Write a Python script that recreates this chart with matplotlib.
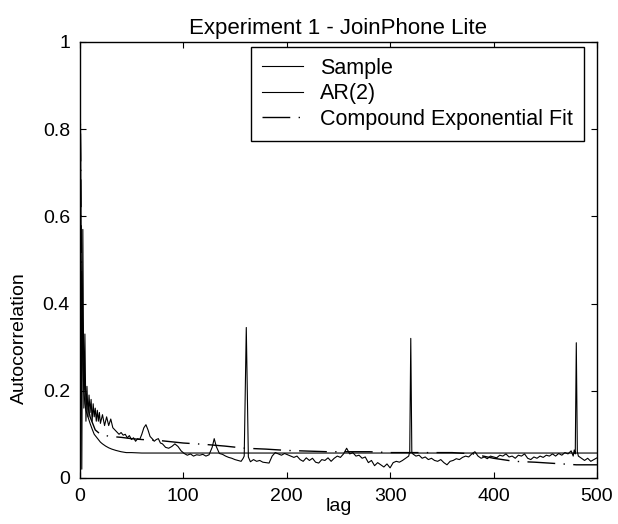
import matplotlib
matplotlib.use("Agg")
import matplotlib.pyplot as plt

plt.rcParams["font.family"] = ["Liberation Sans", "DejaVu Sans"]

title = "Experiment 1 - JoinPhone Lite"
series_names = ["Sample", "AR(2)", "Compound Exponential Fit"]

# sample autocorrelation (at irregular lags)
sample_lag = [
    0, 1, 2, 3, 4, 5, 6, 7, 8, 9, 10, 11, 12, 13, 14, 15, 16, 17, 18, 19, 20,
    22, 24, 26, 28, 30, 32, 34, 36, 38, 40, 42, 44, 46, 48, 50, 52, 54, 56, 58,
    60, 62, 64, 66, 68, 70, 72, 74, 76, 78, 80, 83, 86, 89, 92, 95, 98, 101,
    104, 107, 110, 113, 116, 119, 122, 125, 128, 130, 132, 135, 138, 141, 144,
    147, 150, 153, 156, 158, 159, 161, 163, 165, 168, 171, 174, 177, 180, 183,
    186, 189, 192, 195, 198, 201, 204, 207, 210, 213, 216, 219, 222, 225, 228,
    231, 234, 237, 240, 243, 246, 249, 252, 255, 258, 261, 264, 267, 270, 273,
    276, 279, 282, 285, 288, 291, 294, 297, 300, 303, 306, 309, 312, 315, 318,
    319, 320, 321, 322, 325, 328, 331, 334, 337, 340, 343, 346, 349, 352, 355,
    358, 361, 364, 367, 370, 373, 376, 379, 382, 385, 388, 391, 394, 397, 400,
    403, 406, 409, 412, 415, 418, 421, 424, 427, 430, 433, 436, 439, 442, 445,
    448, 451, 454, 457, 460, 463, 466, 469, 472, 475, 477, 478, 479, 480, 481,
    482, 485, 488, 491, 494, 497, 500,
]
sample_acf = [
    1.0, 0.74, 0.02, 0.57, 0.16, 0.33, 0.13, 0.21, 0.14, 0.19, 0.15, 0.18, 0.13,
    0.17, 0.14, 0.16, 0.13, 0.155, 0.13, 0.15, 0.125,
    0.145, 0.12, 0.14, 0.12, 0.135, 0.115, 0.11, 0.105, 0.1, 0.104, 0.098, 0.1,
    0.092, 0.097, 0.088, 0.092, 0.084, 0.09, 0.088,
    0.1, 0.115, 0.122, 0.11, 0.095, 0.09, 0.084, 0.088, 0.09, 0.08, 0.078, 0.07,
    0.068, 0.072, 0.078, 0.072, 0.062, 0.056,
    0.052, 0.055, 0.05, 0.053, 0.052, 0.054, 0.05, 0.053, 0.07, 0.09, 0.072,
    0.056, 0.054, 0.05, 0.047,
    0.045, 0.042, 0.04, 0.038, 0.045, 0.05, 0.345, 0.048, 0.037, 0.042, 0.038,
    0.04, 0.036, 0.035, 0.034,
    0.05, 0.058, 0.055, 0.052, 0.056, 0.053, 0.05, 0.047, 0.05, 0.042, 0.038,
    0.046, 0.04, 0.045, 0.036,
    0.034, 0.042, 0.04, 0.046, 0.038, 0.045, 0.05, 0.047, 0.055, 0.068, 0.055,
    0.058, 0.05, 0.052, 0.045,
    0.048, 0.035, 0.04, 0.028, 0.035, 0.03, 0.025, 0.032, 0.023, 0.035, 0.038,
    0.036, 0.04, 0.045, 0.05,
    0.06, 0.32, 0.06, 0.055, 0.05, 0.052, 0.045, 0.048, 0.042, 0.045, 0.04,
    0.038, 0.042, 0.035, 0.03,
    0.038, 0.04, 0.044, 0.042, 0.047, 0.05, 0.048, 0.055, 0.06, 0.05, 0.045,
    0.048, 0.044, 0.05, 0.048,
    0.046, 0.052, 0.05, 0.055, 0.048, 0.05, 0.045, 0.052, 0.05, 0.055, 0.045,
    0.042, 0.048, 0.045, 0.05,
    0.047, 0.052, 0.05, 0.055, 0.05, 0.056, 0.052, 0.058, 0.055, 0.062, 0.05,
    0.064, 0.055, 0.31, 0.06,
    0.05, 0.045, 0.04, 0.045, 0.038, 0.042, 0.046,
]

ar2_lag = [0, 1, 2, 3, 4, 5, 6, 8, 10, 12, 14, 16, 18, 20, 22, 25, 28, 31, 35,
           40, 45, 50, 60, 70, 500]
ar2_acf = [1.0, 0.55, 0.38, 0.26, 0.2, 0.17, 0.155, 0.14, 0.125, 0.112, 0.1,
           0.094, 0.088, 0.082, 0.078, 0.073, 0.069, 0.066, 0.063, 0.06, 0.058,
           0.058, 0.057, 0.057, 0.057]

fit_lag = [0, 2, 5, 10, 15, 20, 25, 30, 40, 50, 60, 80, 100, 120, 140, 160,
           180, 200, 240, 280, 300, 320, 360, 380, 400, 420, 440, 460, 480, 500]
fit_acf = [1.0, 0.4, 0.2, 0.14, 0.11, 0.1, 0.097, 0.095, 0.093, 0.09, 0.088,
           0.085, 0.08, 0.077, 0.073, 0.068, 0.066, 0.063, 0.06, 0.06, 0.058,
           0.058, 0.058, 0.055, 0.045, 0.038, 0.036, 0.033, 0.03, 0.03]

fig = plt.figure(figsize=(6.18, 5.24), dpi=100)
ax = fig.add_axes([0.129, 0.088, 0.837, 0.832])

ax.plot(sample_lag, sample_acf, color="black", lw=0.8, label=series_names[0])
ax.plot(ar2_lag, ar2_acf, color="black", lw=0.8, label=series_names[1])
ax.plot(fit_lag, fit_acf, color="black", lw=1.0, dashes=(20, 6, 1, 6),
        label=series_names[2])

ax.set_xlim(0, 500)
ax.set_ylim(0, 1)
ax.set_xticks([0, 100, 200, 300, 400, 500])
ax.set_yticks([0, 0.2, 0.4, 0.6, 0.8, 1])
ax.set_yticklabels(["0", "0.2", "0.4", "0.6", "0.8", "1"])
ax.tick_params(direction="in", top=True, right=True, length=4, width=0.8,
               labelsize=14, pad=7)
for s in ax.spines.values():
    s.set_linewidth(1.0)

ax.set_title(title, fontsize=16, pad=6)
ax.set_xlabel("lag", fontsize=14, labelpad=-5)
ax.set_ylabel("Autocorrelation", fontsize=14)
ax.yaxis.set_label_coords(-0.1, 0.32)

leg = ax.legend(loc="upper right", bbox_to_anchor=(0.975, 0.989), fontsize=15.5,
                handlelength=1.9, handletextpad=0.8, labelspacing=0.2,
                borderpad=0.52, borderaxespad=0, fancybox=False, framealpha=1,
                edgecolor="black")
leg.get_frame().set_linewidth(1.0)

fig.savefig("out.png", dpi=100)
